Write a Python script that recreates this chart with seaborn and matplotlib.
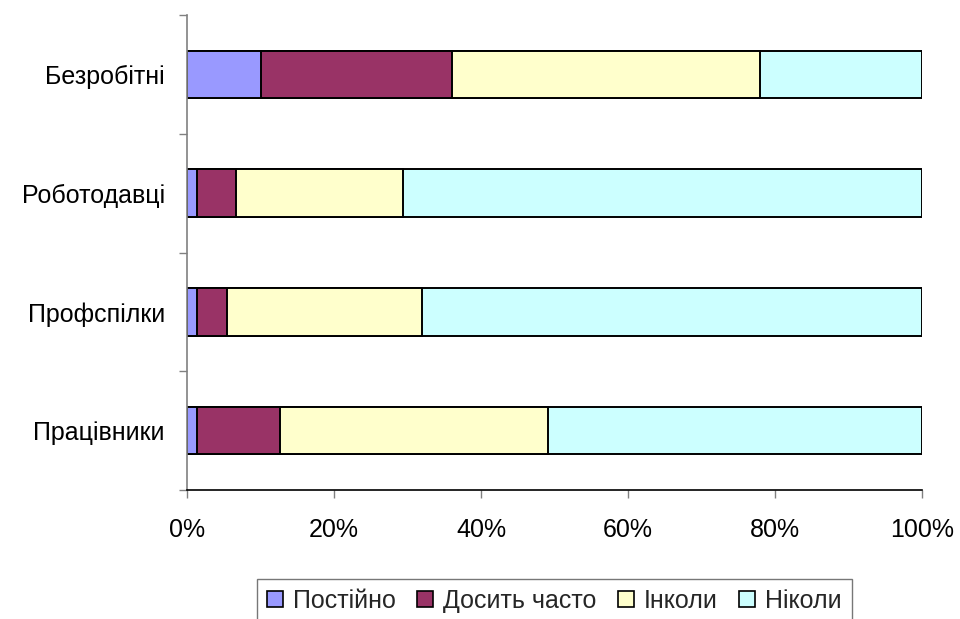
import numpy as np
import pandas as pd
import matplotlib
matplotlib.use("Agg")
import matplotlib.pyplot as plt
import seaborn as sns
from matplotlib.patches import Patch
from matplotlib.ticker import FixedLocator, PercentFormatter

groups = ["Безробітні", "Роботодавці", "Профспілки", "Працівники"]
series = ["Постійно", "Досить часто", "Інколи", "Ніколи"]
postiino = [10.0, 1.3, 1.3, 1.3]
dosyt_chasto = [26.0, 5.3, 4.1, 11.3]
inkoly = [42.0, 22.8, 26.6, 36.5]
nikoly = [22.0, 70.6, 68.0, 50.9]
colors = ["#9999FF", "#993366", "#FFFFCC", "#CCFFFF"]
xticks = [0, 20, 40, 60, 80, 100]

sns.set_theme(style="white")
plt.rcParams["font.family"] = ["Liberation Sans", "DejaVu Sans"]

df = pd.DataFrame({"group": groups, series[0]: postiino, series[1]: dosyt_chasto,
                   series[2]: inkoly, series[3]: nikoly})
cum = df[series].cumsum(axis=1)

fig = plt.figure(figsize=(9.6, 6.19), dpi=100)
ax = fig.add_axes([187/960, 1-490/619, (922-187)/960, (490-15)/619])

for s, c in reversed(list(zip(series, colors))):
    sns.barplot(x=cum[s], y=df["group"], orient="h", color=c, width=0.4,
                edgecolor="black", linewidth=1.4, ax=ax, saturation=1)

ax.set_xlim(0, 100)
ax.set_ylim(3.5, -0.5)
ax.set_xlabel("")
ax.set_ylabel("")
ax.xaxis.set_major_locator(FixedLocator(xticks))
ax.xaxis.set_major_formatter(PercentFormatter(decimals=0))
ax.yaxis.set_minor_locator(FixedLocator([-0.5, 0.5, 1.5, 2.5, 3.5]))
ax.tick_params(axis="y", which="major", length=0, pad=16, labelsize=18, labelcolor="black")
ax.tick_params(axis="y", which="minor", length=6, width=1, color="#808080", left=True)
ax.tick_params(axis="x", which="major", length=6, width=1, color="#808080", bottom=True,
               pad=14, labelsize=18, labelcolor="black")
for side in ["top", "right"]:
    ax.spines[side].set_visible(False)
ax.spines["left"].set_color("#808080")
ax.spines["left"].set_linewidth(1.2)
ax.spines["bottom"].set_color("black")
ax.spines["bottom"].set_linewidth(1.2)

handles = [Patch(facecolor=c, edgecolor="black", linewidth=1.2) for c in colors]
leg = ax.legend(handles, series, loc="upper center", bbox_to_anchor=(0.5, -0.187),
                ncol=4, frameon=True, fancybox=False, fontsize=18,
                handlelength=0.64, handleheight=0.64, handletextpad=0.4,
                columnspacing=0.85, borderpad=0.4, borderaxespad=0)
leg.get_frame().set_edgecolor("#555555")
leg.get_frame().set_linewidth(1)

fig.savefig("out.png", dpi=100)
